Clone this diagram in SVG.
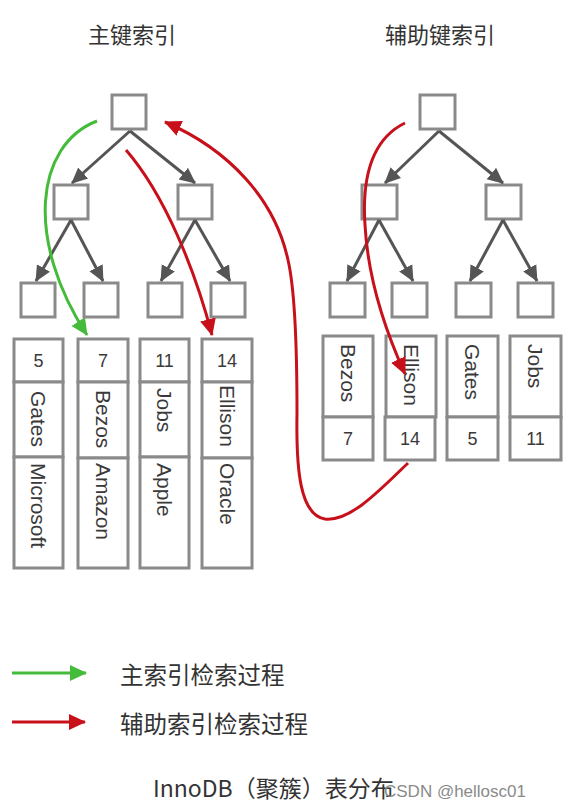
<svg xmlns="http://www.w3.org/2000/svg" width="573" height="812" viewBox="0 0 573 812">
<defs>
<style>
.box{fill:#fff;stroke:#8a8a8a;stroke-width:3}
.cell{fill:#fff;stroke:#8a8a8a;stroke-width:3}
.edge{stroke:#555;stroke-width:3;fill:none;marker-end:url(#ah)}
.t{font-family:"Liberation Sans","Noto Sans CJK SC",sans-serif;fill:#3a3a3a}
.num{font-size:18px;text-anchor:middle}
.nm{font-size:21px}
.cjk{font-family:"Noto Sans CJK SC","Liberation Sans",sans-serif;fill:#333}
.green{stroke:#44bb3a;stroke-width:3;fill:none}
.red{stroke:#c8101a;stroke-width:3;fill:none}
</style>
<marker id="ah" markerUnits="userSpaceOnUse" markerWidth="17" markerHeight="17" viewBox="0 0 17 17" refX="15" refY="8.5" orient="auto"><path d="M0,1 L16,8.5 L0,16 Z" fill="#555"/></marker>
<marker id="ag" markerUnits="userSpaceOnUse" markerWidth="18" markerHeight="18" viewBox="0 0 18 18" refX="16" refY="9" orient="auto"><path d="M0,1 L17,9 L0,17 Z" fill="#44bb3a"/></marker>
<marker id="ar" markerUnits="userSpaceOnUse" markerWidth="18" markerHeight="18" viewBox="0 0 18 18" refX="16" refY="9" orient="auto"><path d="M0,1 L17,9 L0,17 Z" fill="#c8101a"/></marker>
</defs>
<rect width="573" height="812" fill="#fff"/>

<g id="titles">
<text class="cjk" x="88" y="43" font-size="22">主键索引</text>
<text class="cjk" x="385" y="43" font-size="22">辅助键索引</text>
</g>

<g id="p-root"><rect class="box" x="112" y="95" width="34" height="34"/></g>
<g id="p-l2a"><rect class="box" x="54" y="185" width="34" height="34"/></g>
<g id="p-l2b"><rect class="box" x="178" y="185" width="34" height="34"/></g>
<g id="p-l3a"><rect class="box" x="21" y="283" width="34" height="34"/></g>
<g id="p-l3b"><rect class="box" x="84" y="283" width="34" height="34"/></g>
<g id="p-l3c"><rect class="box" x="148" y="283" width="34" height="34"/></g>
<g id="p-l3d"><rect class="box" x="211" y="283" width="34" height="34"/></g>

<g id="s-root"><rect class="box" x="420" y="95" width="35" height="34"/></g>
<g id="s-l2a"><rect class="box" x="362" y="185" width="35" height="34"/></g>
<g id="s-l2b"><rect class="box" x="486" y="185" width="35" height="34"/></g>
<g id="s-l3a"><rect class="box" x="330" y="283" width="35" height="34"/></g>
<g id="s-l3b"><rect class="box" x="392" y="283" width="35" height="34"/></g>
<g id="s-l3c"><rect class="box" x="456" y="283" width="35" height="34"/></g>
<g id="s-l3d"><rect class="box" x="518" y="283" width="35" height="34"/></g>

<g id="row5">
<rect class="cell" x="14" y="339" width="49" height="43"/>
<rect class="cell" x="14" y="382" width="49" height="75"/>
<rect class="cell" x="14" y="457" width="49" height="111"/>
<text class="t num" x="38.5" y="367">5</text>
<text class="t nm" transform="translate(38.5,391) rotate(90)" dominant-baseline="central">Gates</text>
<text class="t nm" transform="translate(38.5,463) rotate(90)" dominant-baseline="central">Microsoft</text>
</g>
<g id="row7">
<rect class="cell" x="78" y="339" width="50" height="43"/>
<rect class="cell" x="78" y="382" width="50" height="76"/>
<rect class="cell" x="78" y="458" width="50" height="110"/>
<text class="t num" x="103" y="367">7</text>
<text class="t nm" transform="translate(103,390) rotate(90)" dominant-baseline="central">Bezos</text>
<text class="t nm" transform="translate(103,463) rotate(90)" dominant-baseline="central">Amazon</text>
</g>
<g id="row11">
<rect class="cell" x="140" y="339" width="49" height="43"/>
<rect class="cell" x="140" y="382" width="49" height="75"/>
<rect class="cell" x="140" y="457" width="49" height="111"/>
<text class="t num" x="164.5" y="367">11</text>
<text class="t nm" transform="translate(164.5,388) rotate(90)" dominant-baseline="central">Jobs</text>
<text class="t nm" transform="translate(164.5,463) rotate(90)" dominant-baseline="central">Apple</text>
</g>
<g id="row14">
<rect class="cell" x="202" y="339" width="50" height="43"/>
<rect class="cell" x="202" y="382" width="50" height="76"/>
<rect class="cell" x="202" y="458" width="50" height="110"/>
<text class="t num" x="227" y="367">14</text>
<text class="t nm" transform="translate(227,385) rotate(90)" dominant-baseline="central">Ellison</text>
<text class="t nm" transform="translate(227,463) rotate(90)" dominant-baseline="central">Oracle</text>
</g>

<g id="sec-bezos">
<rect class="cell" x="323" y="336" width="50" height="81"/>
<rect class="cell" x="323" y="417" width="50" height="43"/>
<text class="t nm" transform="translate(348,344) rotate(90)" dominant-baseline="central">Bezos</text>
<text class="t num" x="348" y="445">7</text>
</g>
<g id="sec-ellison">
<rect class="cell" x="386" y="336" width="50" height="81"/>
<rect class="cell" x="385" y="417" width="50" height="43"/>
<text class="t nm" transform="translate(411,344) rotate(90)" dominant-baseline="central">Ellison</text>
<text class="t num" x="410" y="445">14</text>
</g>
<g id="sec-gates">
<rect class="cell" x="447" y="336" width="51" height="81"/>
<rect class="cell" x="447" y="417" width="51" height="43"/>
<text class="t nm" transform="translate(472.5,344) rotate(90)" dominant-baseline="central">Gates</text>
<text class="t num" x="472.5" y="445">5</text>
</g>
<g id="sec-jobs">
<rect class="cell" x="510" y="336" width="51" height="81"/>
<rect class="cell" x="510" y="417" width="51" height="43"/>
<text class="t nm" transform="translate(535.5,344) rotate(90)" dominant-baseline="central">Jobs</text>
<text class="t num" x="535.5" y="445">11</text>
</g>

<g id="connectors">
<path class="edge" d="M130,131 L72,183"/>
<path class="edge" d="M130,131 L195,183"/>
<path class="edge" d="M71,220 L36,281"/>
<path class="edge" d="M71,220 L103,281"/>
<path class="edge" d="M195,220 L161,281"/>
<path class="edge" d="M195,220 L230,281"/>
<path class="edge" d="M439,131 L385,183"/>
<path class="edge" d="M439,131 L503,183"/>
<path class="edge" d="M379,220 L347,281"/>
<path class="edge" d="M379,220 L413,281"/>
<path class="edge" d="M503,220 L470,281"/>
<path class="edge" d="M503,220 L537,281"/>

<path class="green" d="M97,121 C35,145 25,240 87,335" marker-end="url(#ag)"/>
<path class="red" d="M126,150 C165,195 195,270 212,335" marker-end="url(#ar)"/>
<path class="red" d="M408,463 C380,490 350,522 325,519 C300,515 296,470 297,413 C297,340 295,290 288,260 C275,200 230,150 165,122" marker-end="url(#ar)"/>
<path class="red" d="M405,123 C370,140 362,180 365,225 C368,280 385,330 405,374" marker-end="url(#ar)"/>
</g>

<g id="legend">
<path class="green" d="M12,673 L86,673" marker-end="url(#ag)"/>
<text class="cjk" x="120" y="684" font-size="23.5">主索引检索过程</text>
<path class="red" d="M12,722 L85,722" marker-end="url(#ar)"/>
<text class="cjk" x="120" y="733" font-size="23.5">辅助索引检索过程</text>
</g>

<g id="caption">
<text class="cjk" x="153" y="797" font-size="23">InnoDB（聚簇）表分布</text>
<text x="384" y="797" font-size="17" font-family="Liberation Sans, sans-serif" fill="#8a8a8a">CSDN @hellosc01</text>
</g>
</svg>
